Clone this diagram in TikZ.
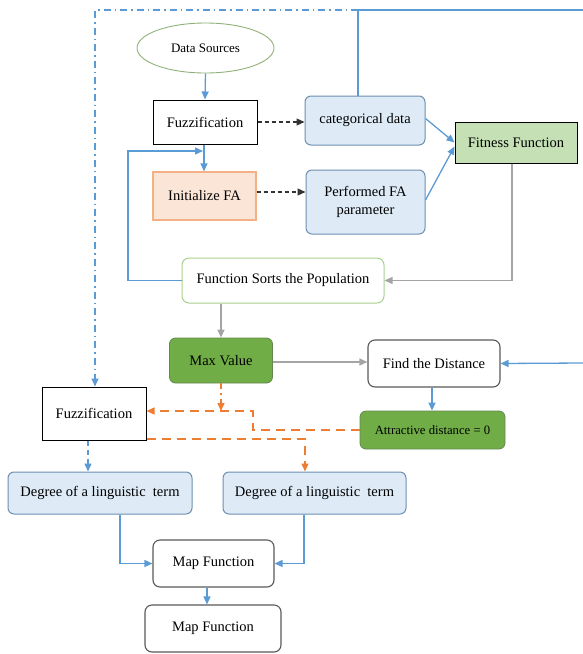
\documentclass[tikz,border=0pt]{standalone}
\usepackage{fontspec}
\setmainfont{Liberation Serif}
\usetikzlibrary{shapes.geometric,arrows.meta}
\definecolor{lineblue}{HTML}{5B9BD5}
\definecolor{linegray}{HTML}{A5A5A5}
\definecolor{lineorange}{HTML}{ED7D31}
\definecolor{boxblue}{HTML}{DEEBF7}
\definecolor{boxblueedge}{HTML}{6F8FB3}
\definecolor{peach}{HTML}{FBE5D6}
\definecolor{peachedge}{HTML}{F4B183}
\definecolor{lightgreen}{HTML}{C5E0B4}
\definecolor{greenedge}{HTML}{A9D18E}
\definecolor{darkgreen}{HTML}{70AD47}
\definecolor{darkgreenedge}{HTML}{5A8A3A}
\begin{document}
\begin{tikzpicture}[x=1pt,y=-1pt,
  every node/.style={inner sep=0pt,align=center,font=\fontsize{14.5}{18}\selectfont},
  plainbox/.style={draw=black,line width=1pt,fill=white},
  bluebox/.style={draw=boxblueedge,line width=1pt,fill=boxblue,rounded corners=6pt},
  peachbox/.style={draw=peachedge,line width=1.2pt,fill=peach},
  fitbox/.style={draw=black,line width=1pt,fill=lightgreen},
  greenbox/.style={draw=darkgreenedge!70!gray,line width=0.8pt,fill=darkgreen,rounded corners=6pt},
  whiteround/.style={draw=black!65,line width=1.1pt,fill=white,rounded corners=7pt},
  sortbox/.style={draw=greenedge,line width=1pt,fill=white,rounded corners=7pt},
  tip/.style={-{Triangle[length=8pt,width=7pt]}},
  blueline/.style={draw=lineblue,line width=1.3pt},
  grayline/.style={draw=linegray,line width=1.3pt},
  blackdash/.style={draw=black!80,line width=1.1pt,dash pattern=on 4pt off 3pt},
  orangedash/.style={draw=lineorange,line width=1.4pt,dash pattern=on 9pt off 6pt},
  orangedashdot/.style={draw=lineorange,line width=1.4pt,dash pattern=on 6pt off 4pt on 1.5pt off 4pt},
  bluedashdot/.style={draw=lineblue,line width=1.3pt,dash pattern=on 7pt off 4pt on 1.5pt off 4pt},
  bluedash/.style={draw=lineblue,line width=1.3pt,dash pattern=on 5pt off 4pt}]
\useasboundingbox (0,0) rectangle (583,654);

% nodes
\node[ellipse,draw=greenedge!85!black,line width=0.9pt,fill=white,minimum width=137pt,minimum height=50pt,font=\fontsize{13}{16}\selectfont] (ds) at (205.5,48) {Data Sources};
\node[plainbox,minimum width=104pt,minimum height=44pt] (fz1) at (205,122) {Fuzzification};
\node[bluebox,minimum width=120pt,minimum height=49pt] (cat) at (365,120.5) {categorical data};
\node[fitbox,minimum width=122pt,minimum height=41pt] (fit) at (516,142.5) {Fitness Function};
\node[peachbox,minimum width=103pt,minimum height=48pt] (ini) at (204.5,196) {Initialize FA};
\node[bluebox,minimum width=119pt,minimum height=64pt] (perf) at (365.5,202) {Performed FA\\parameter};
\node[sortbox,minimum width=202pt,minimum height=45pt] (sort) at (283,280.5) {Function Sorts the Population};
\node[greenbox,minimum width=103pt,minimum height=45pt] (maxv) at (221,360.5) {Max Value};
\node[whiteround,minimum width=132pt,minimum height=47pt] (fd) at (434,363.5) {Find the Distance};
\node[greenbox,minimum width=145pt,minimum height=38pt,font=\fontsize{12.7}{16}\selectfont] (att) at (432.5,430) {Attractive distance = 0};
\node[plainbox,minimum width=104pt,minimum height=53pt] (fz2) at (94,413.5) {Fuzzification};
\node[bluebox,minimum width=184pt,minimum height=42pt] (deg1) at (100,493) {Degree of a linguistic\ \ term};
\node[bluebox,minimum width=183pt,minimum height=42pt] (deg2) at (314.5,493) {Degree of a linguistic\ \ term};
\node[whiteround,minimum width=121pt,minimum height=47pt] (map1) at (213.5,563.5) {Map Function};
\node[whiteround,minimum width=136pt,minimum height=47pt] (map2) at (213,628.5) {Map Function};

% free coordinates
\coordinate (topjoin) at (358,10);
\coordinate (topright) at (583,10);
\coordinate (rightin) at (583,363);
\coordinate (looptip) at (203,151);
\coordinate (orangejoin) at (221,411);

% connectors
\draw[blueline,tip] (ds.south) -- (fz1.north);
\draw[blackdash,tip] (fz1.east) -- (cat.west |- fz1.east);
\draw[blackdash,tip] (ini.east |- 0,192) -- (perf.west |- 0,192);
\draw[blueline,tip] ([xshift=-1pt]fz1.south) -- ([xshift=-0.5pt]ini.north);
\draw[blueline,tip] (sort.west) -| (128,151) -- (looptip);
\draw[blueline] ([xshift=-7pt]cat.north) -- (topjoin) -- (topright);
\draw[bluedashdot,tip] (topjoin) -- (95,10) -- (fz2.north -| 95,0);
\draw[blueline,tip] ([yshift=2pt]cat.east) -- ([yshift=0pt]fit.west);
\draw[blueline,tip] ([yshift=2pt]perf.east) -- ([yshift=-4pt]fit.west);
\draw[grayline,tip] ([xshift=-4pt]fit.south) |- (sort.east);
\draw[grayline,tip] (sort.south -| maxv.north) -- (maxv.north);
\draw[grayline,tip] (maxv.east |- 0,362) -- (fd.west |- 0,362);
\draw[blueline,tip] (rightin) -- (fd.east);
\draw[blueline,tip] ([xshift=-2pt]fd.south) -- ([xshift=-0.5pt]att.north);
\draw[orangedashdot,tip] (maxv.south) -- (orangejoin);
\draw[orangedash,tip] (att.west) -- (253,430) -- (253,411) -- (fz2.east |- 0,411);
\draw[orangedash,tip] (fz2.east |- 0,439) -- (305,439) -- (deg2.north -| 305,0);
\draw[bluedash,tip] (fz2.south -| 88,0) -- (deg1.north -| 88,0);
\draw[blueline,tip] (deg1.south -| 120,0) |- (map1.west);
\draw[blueline,tip] (deg2.south -| 304,0) |- (map1.east);
\draw[blueline,tip] (map1.south -| 207,0) -- (map2.north -| 207,0);
\end{tikzpicture}
\end{document}
